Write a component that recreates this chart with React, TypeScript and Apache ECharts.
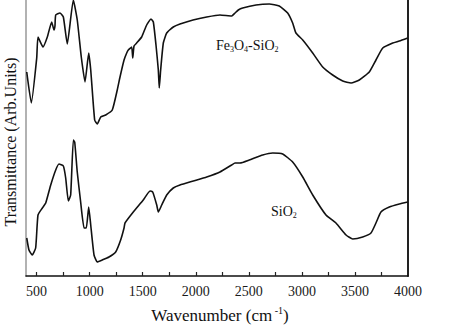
import React, { useEffect, useRef } from "react";
import * as echarts from "echarts";

// Fe3O4-SiO2 spectrum (upper trace), arbitrary transmittance units
const fe3o4Wavenumber = [407, 450, 501, 513, 560, 601, 642, 664, 673, 680, 720, 752, 789, 846, 883, 921, 956, 991, 1010, 1047, 1072, 1104, 1151, 1213, 1260, 1286, 1324, 1349, 1364, 1396, 1406, 1418, 1443, 1490, 1537, 1578, 1600, 1625, 1647, 1656, 1669, 1694, 1726, 1788, 1851, 1974, 2103, 2228, 2338, 2370, 2401, 2442, 2568, 2693, 2787, 2866, 2913, 2944, 3008, 3102, 3196, 3290, 3385, 3463, 3541, 3635, 3698, 3762, 3856, 3918, 3997];
const fe3o4Values = [204, 173, 218, 239, 229, 239, 254, 246, 250, 261, 263, 259, 232, 276, 256, 219, 194, 223, 206, 156, 152, 159, 161, 166, 186, 199, 216, 223, 226, 229, 218, 230, 233, 239, 251, 257, 254, 231, 206, 188, 206, 233, 243, 249, 252, 256, 259, 261, 260, 263, 266, 268, 271, 272, 270, 263, 253, 243, 236, 223, 209, 201, 195, 193, 196, 204, 216, 228, 233, 235, 238];

// SiO2 spectrum (lower trace)
const sio2Wavenumber = [407, 428, 459, 491, 513, 554, 586, 633, 680, 711, 752, 774, 799, 821, 846, 859, 883, 915, 947, 968, 991, 1010, 1041, 1072, 1119, 1182, 1245, 1292, 1324, 1333, 1411, 1505, 1569, 1594, 1632, 1647, 1679, 1726, 1788, 1851, 1977, 2103, 2228, 2338, 2370, 2417, 2504, 2631, 2725, 2819, 2913, 3008, 3102, 3227, 3321, 3416, 3479, 3573, 3651, 3698, 3745, 3824, 3918, 3997];
const sio2Values = [38, 26, 21, 28, 61, 68, 73, 91, 106, 112, 110, 98, 75, 81, 136, 134, 104, 74, 48, 48, 69, 51, 21, 14, 16, 19, 24, 36, 48, 53, 64, 76, 85, 84, 71, 64, 71, 81, 88, 91, 95, 99, 104, 111, 113, 113, 116, 121, 123, 122, 114, 99, 81, 61, 53, 41, 37, 39, 43, 53, 64, 69, 72, 74];

const xTickLabels = [500, 1000, 1500, 2000, 2500, 3000, 3500, 4000];
const xTickMarks = [500, 750, 1000, 1250, 1500, 1750, 2000, 2250, 2500, 2750, 3000, 3250, 3500, 3750];

const FONT = "'Liberation Serif', 'Times New Roman', serif";

export default function App() {
  const ref = useRef<HTMLDivElement>(null);
  useEffect(() => {
    if (!ref.current) return;
    const chart = echarts.init(ref.current, undefined, { renderer: "svg" });
    const pair = (xs: number[], ys: number[]) => xs.map((x, i) => [x, ys[i]]);
    chart.setOption({
      animation: false,
      backgroundColor: "#ffffff",
      grid: { left: 26, right: 66, top: 0, bottom: 53 },
      xAxis: {
        type: "value",
        min: 400,
        max: 4000,
        axisLine: { show: true, onZero: false, lineStyle: { color: "#111", width: 1.5 } },
        axisTick: { show: true, inside: true, length: 4, customValues: xTickMarks, lineStyle: { color: "#222", width: 1.2 } },
        splitLine: { show: false },
        axisLabel: {
          color: "#1a1a1a",
          fontFamily: FONT,
          fontSize: 14,
          margin: 8,
          customValues: xTickLabels,
          formatter: (v: number) => String(v),
        },
      },
      yAxis: [
        {
          type: "value",
          min: 0,
          max: 276,
          axisLine: { show: true, lineStyle: { color: "#999", width: 1.5 } },
          axisTick: { show: false },
          axisLabel: { show: false },
          splitLine: { show: false },
        },
        {
          type: "value",
          position: "right",
          min: 0,
          max: 276,
          axisLine: { show: true, lineStyle: { color: "#222", width: 2 } },
          axisTick: { show: false },
          axisLabel: { show: false },
          splitLine: { show: false },
        },
      ],
      series: [
        {
          name: "Fe3O4-SiO2",
          type: "line",
          data: pair(fe3o4Wavenumber, fe3o4Values),
          showSymbol: false,
          smooth: 0.15,
          lineStyle: { color: "#111", width: 1.6 },
        },
        {
          name: "SiO2",
          type: "line",
          data: pair(sio2Wavenumber, sio2Values),
          showSymbol: false,
          smooth: 0.15,
          lineStyle: { color: "#111", width: 1.6 },
        },
      ],
      graphic: [
        {
          type: "text",
          x: 216,
          y: 45,
          style: {
            text: "Fe{sub|3}O{sub|4}-SiO{sub|2}",
            fill: "#111",
            font: `14px ${FONT}`,
            verticalAlign: "middle",
            rich: {
              sub: { fontSize: 8, fontFamily: FONT, fill: "#111", padding: [8, 0, 0, 0] },
            },
          },
        },
        {
          type: "text",
          x: 271,
          y: 211,
          style: {
            text: "SiO{sub|2}",
            fill: "#111",
            font: `14px ${FONT}`,
            verticalAlign: "middle",
            rich: {
              sub: { fontSize: 8, fontFamily: FONT, fill: "#111", padding: [8, 0, 0, 0] },
            },
          },
        },
        {
          type: "text",
          x: 220,
          y: 315,
          style: {
            text: "Wavenumber (cm{sup| -1})",
            fill: "#111",
            font: `17px ${FONT}`,
            align: "center",
            verticalAlign: "middle",
            rich: {
              sup: { fontSize: 10, fontFamily: FONT, fill: "#111", padding: [0, 0, 9, 0] },
            },
          },
        },
        {
          type: "text",
          x: 10,
          y: 142,
          rotation: Math.PI / 2,
          style: {
            text: "Transmittance (Arb.Units)",
            fill: "#111",
            font: `16px ${FONT}`,
            align: "center",
            verticalAlign: "middle",
          },
        },
      ],
    });
    return () => chart.dispose();
  }, []);
  return <div ref={ref} style={{ width: 474, height: 329, position: "absolute", left: 0, top: 0 }} />;
}
